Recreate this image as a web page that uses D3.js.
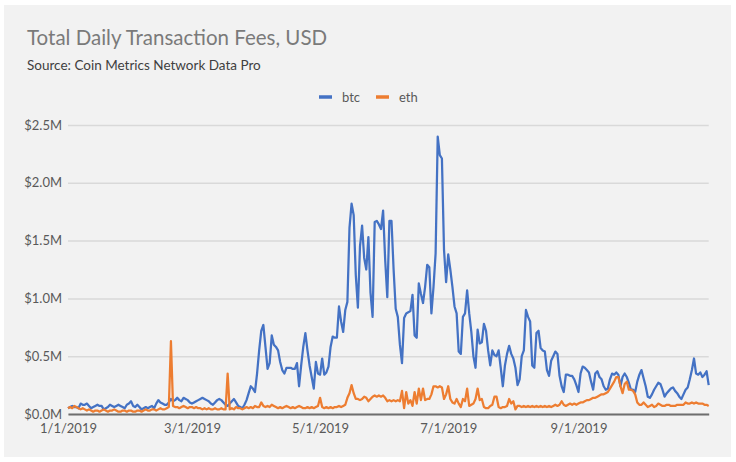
<!DOCTYPE html>
<html>
<head>
<meta charset="utf-8">
<script src="https://cdn.jsdelivr.net/npm/d3@7"></script>
<style>
  body { margin: 0; background: #fff; }
  svg text { font-family: Lato, "Open Sans", sans-serif; }
</style>
</head>
<body>
<svg id="chart" width="736" height="462"></svg>
<script>
// daily fees in $M, one value per day starting 1/1/2019
var btc = [
  0.05,0.06,0.07,0.06,0.06,0.05,0.09,0.08,0.08,0.09,
  0.07,0.05,0.06,0.07,0.08,0.07,0.07,0.04,0.05,0.06,
  0.08,0.07,0.06,0.07,0.08,0.07,0.06,0.05,0.08,0.09,
  0.11,0.07,0.06,0.08,0.06,0.04,0.05,0.06,0.05,0.06,
  0.07,0.05,0.09,0.12,0.10,0.09,0.08,0.08,0.10,0.13,
  0.11,0.12,0.14,0.12,0.11,0.14,0.13,0.12,0.10,0.09,
  0.10,0.11,0.12,0.13,0.14,0.13,0.12,0.11,0.09,0.08,
  0.10,0.12,0.13,0.12,0.10,0.08,0.07,0.09,0.11,0.13,
  0.10,0.07,0.06,0.05,0.08,0.12,0.18,0.24,0.22,0.19,
  0.35,0.55,0.72,0.77,0.58,0.39,0.44,0.68,0.60,0.58,
  0.55,0.45,0.38,0.35,0.40,0.40,0.40,0.39,0.39,0.44,
  0.24,0.42,0.58,0.70,0.55,0.42,0.32,0.22,0.45,0.35,
  0.34,0.48,0.34,0.36,0.41,0.58,0.67,0.66,0.66,0.93,
  0.80,0.71,0.90,0.97,1.61,1.82,1.72,1.20,0.92,1.45,
  1.63,1.35,1.25,1.53,1.05,0.84,1.66,1.67,1.64,1.60,
  1.76,1.33,1.01,1.67,1.67,1.25,0.91,0.84,0.60,0.44,
  0.83,0.87,0.88,0.89,1.03,0.68,0.66,1.13,1.04,0.96,
  1.10,1.29,1.27,0.87,1.10,1.39,2.40,2.24,2.21,1.42,
  1.14,1.38,1.25,1.10,0.93,0.87,0.54,0.52,0.84,0.87,
  1.07,0.87,0.71,0.50,0.40,0.73,0.61,0.62,0.78,0.72,
  0.55,0.42,0.55,0.51,0.50,0.55,0.40,0.24,0.42,0.52,
  0.59,0.52,0.48,0.40,0.25,0.30,0.50,0.55,0.90,0.84,
  0.80,0.42,0.40,0.70,0.72,0.57,0.55,0.54,0.38,0.33,
  0.46,0.50,0.54,0.52,0.33,0.24,0.19,0.34,0.34,0.33,
  0.33,0.30,0.25,0.19,0.35,0.41,0.40,0.38,0.36,0.28,
  0.21,0.35,0.37,0.32,0.30,0.24,0.21,0.22,0.30,0.35,
  0.34,0.36,0.34,0.24,0.32,0.35,0.32,0.27,0.21,0.21,
  0.19,0.28,0.34,0.38,0.31,0.24,0.15,0.14,0.17,0.21,
  0.24,0.27,0.26,0.21,0.15,0.18,0.20,0.22,0.23,0.20,
  0.18,0.15,0.13,0.17,0.21,0.23,0.30,0.38,0.48,0.35,
  0.34,0.36,0.32,0.34,0.37,0.25
];

var eth = [
  0.05,0.06,0.05,0.07,0.06,0.05,0.04,0.05,0.04,0.03,
  0.04,0.03,0.02,0.03,0.03,0.02,0.03,0.04,0.03,0.02,
  0.03,0.03,0.04,0.03,0.02,0.02,0.03,0.03,0.02,0.03,
  0.03,0.02,0.02,0.03,0.03,0.02,0.03,0.04,0.03,0.03,
  0.04,0.04,0.03,0.04,0.05,0.04,0.04,0.05,0.06,0.63,
  0.07,0.06,0.06,0.05,0.06,0.07,0.06,0.05,0.06,0.06,
  0.05,0.06,0.05,0.05,0.04,0.05,0.04,0.05,0.04,0.04,
  0.05,0.04,0.04,0.05,0.04,0.04,0.35,0.04,0.05,0.04,
  0.06,0.05,0.05,0.04,0.05,0.06,0.05,0.06,0.05,0.07,
  0.06,0.06,0.10,0.07,0.06,0.07,0.06,0.08,0.07,0.06,
  0.05,0.06,0.05,0.06,0.07,0.06,0.05,0.06,0.05,0.06,
  0.07,0.06,0.05,0.05,0.06,0.05,0.06,0.05,0.06,0.07,
  0.14,0.06,0.05,0.06,0.05,0.06,0.05,0.06,0.06,0.07,
  0.06,0.07,0.08,0.14,0.18,0.25,0.18,0.13,0.13,0.12,
  0.13,0.15,0.14,0.11,0.13,0.15,0.16,0.15,0.16,0.15,
  0.16,0.14,0.11,0.12,0.11,0.12,0.11,0.12,0.11,0.20,
  0.05,0.19,0.09,0.12,0.07,0.19,0.09,0.22,0.12,0.22,
  0.12,0.13,0.13,0.17,0.24,0.24,0.23,0.24,0.23,0.13,
  0.17,0.24,0.13,0.10,0.09,0.13,0.09,0.06,0.13,0.11,
  0.22,0.07,0.08,0.09,0.13,0.22,0.12,0.13,0.06,0.05,
  0.05,0.07,0.08,0.15,0.15,0.06,0.05,0.06,0.06,0.07,
  0.13,0.09,0.11,0.04,0.07,0.07,0.06,0.07,0.06,0.07,
  0.06,0.07,0.06,0.07,0.06,0.07,0.06,0.07,0.06,0.07,
  0.06,0.07,0.08,0.07,0.08,0.11,0.08,0.07,0.08,0.09,
  0.08,0.09,0.08,0.09,0.10,0.10,0.11,0.12,0.12,0.13,
  0.14,0.14,0.15,0.16,0.17,0.17,0.18,0.19,0.22,0.25,
  0.28,0.32,0.32,0.24,0.18,0.26,0.28,0.21,0.21,0.20,
  0.17,0.10,0.08,0.08,0.10,0.08,0.06,0.07,0.08,0.06,
  0.07,0.09,0.08,0.07,0.07,0.08,0.08,0.07,0.07,0.07,
  0.08,0.08,0.08,0.08,0.10,0.09,0.09,0.10,0.09,0.10,
  0.09,0.09,0.09,0.08,0.08,0.07
];

var startDate = new Date(2019, 0, 1);
var endDate = new Date(2019, 10, 2);
var xTicks = [new Date(2019,0,1), new Date(2019,2,1), new Date(2019,4,1), new Date(2019,6,1), new Date(2019,8,1)];
var yTicks = [0, 0.5, 1.0, 1.5, 2.0, 2.5];
var seriesNames = ["btc", "eth"];
var seriesColors = ["#4472c4", "#ed7d31"];

var svg = d3.select("#chart");

// chart area background
svg.append("rect")
   .attr("x", 4).attr("y", 5)
   .attr("width", 727).attr("height", 452)
   .attr("fill", "#f2f2f2");

svg.append("text")
   .attr("x", 27).attr("y", 45)
   .attr("font-size", 20.5)
   .attr("fill", "#7a7a7a")
   .text("Total Daily Transaction Fees, USD");

svg.append("text")
   .attr("x", 27).attr("y", 70)
   .attr("font-size", 13.5)
   .attr("fill", "#404040")
   .text("Source: Coin Metrics Network Data Pro");

var x = d3.scaleTime().domain([startDate, endDate]).range([68, 708.7]);
var y = d3.scaleLinear().domain([0, 2.5]).range([414, 125]);

function dayOf(i){ return d3.timeDay.offset(startDate, i); }

// gridlines + y labels
var yAxis = svg.append("g")
   .attr("transform", "translate(68,0)")
   .call(d3.axisLeft(y)
      .tickValues(yTicks)
      .tickSize(-(708.7 - 68))
      .tickPadding(6)
      .tickFormat(function(d){ return "$" + d.toFixed(1) + "M"; }));
yAxis.select(".domain").remove();
yAxis.selectAll(".tick line")
     .attr("stroke", "#d9d9d9")
     .attr("stroke-width", 1.5);
yAxis.selectAll(".tick text")
     .attr("fill", "#595959")
     .attr("font-size", 13)
     .style("font-family", "Lato, 'Open Sans', sans-serif");

// x axis
var xAxis = svg.append("g")
   .attr("transform", "translate(0,414)")
   .call(d3.axisBottom(x)
      .tickValues(xTicks)
      .tickSize(0)
      .tickPadding(10)
      .tickFormat(d3.timeFormat("%-m/%-d/%Y")));
xAxis.select(".domain")
     .attr("stroke", "#6e6e6e")
     .attr("stroke-width", 2);
xAxis.selectAll(".tick text")
     .attr("fill", "#595959")
     .attr("font-size", 13)
     .style("font-family", "Lato, 'Open Sans', sans-serif");

var line = d3.line()
   .x(function(d,i){ return x(dayOf(i)); })
   .y(function(d){ return y(d); });

svg.selectAll("path.series")
   .data([btc, eth])
   .enter().append("path")
   .attr("class", "series")
   .attr("d", line)
   .attr("fill", "none")
   .attr("stroke", function(d,i){ return seriesColors[i]; })
   .attr("stroke-width", 2.25)
   .attr("stroke-linejoin", "round");

// legend
var legend = svg.selectAll("g.legend")
   .data(seriesNames)
   .enter().append("g")
   .attr("class", "legend")
   .attr("transform", function(d,i){ return "translate(" + (319 + i*57) + ",97)"; });
legend.append("line")
   .attr("x1", 0).attr("x2", 13)
   .attr("stroke", function(d,i){ return seriesColors[i]; })
   .attr("stroke-width", 3.5);
legend.append("text")
   .attr("x", 23).attr("y", 4.5)
   .attr("font-size", 13)
   .attr("fill", "#595959")
   .text(function(d){ return d; });
</script>
</body>
</html>
